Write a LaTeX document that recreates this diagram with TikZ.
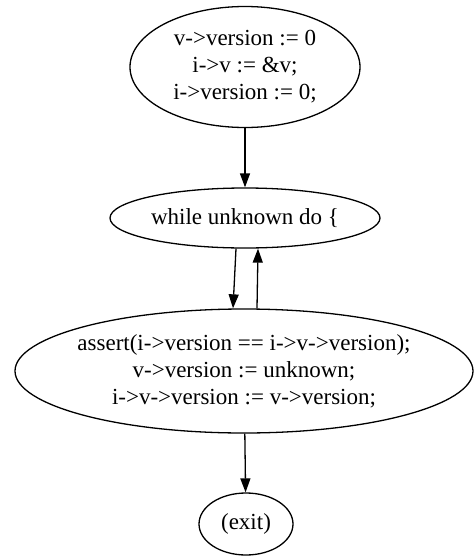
\documentclass[tikz,border=0pt]{standalone}
\usepackage{fontspec}
\setmainfont{Liberation Serif}
\usetikzlibrary{shapes.geometric}
\usetikzlibrary{arrows.meta}

\tikzset{
	stmt/.style={draw, ellipse, line width=1.3pt, inner sep=0pt, align=center,
		font=\fontsize{23}{27}\selectfont},
	flow/.style={-{Triangle[length=14pt,width=10pt]}, line width=1.3pt}
}

\begin{document}
\begin{tikzpicture}[x=1pt, y=-1pt]
\useasboundingbox (0, 0) rectangle (474, 557);

\node[stmt, minimum width=230pt, minimum height=121pt] (init) at (245, 67)
	{v->version := 0\\i->v := \&v;\\i->version := 0;};
\node[stmt, minimum width=270pt, minimum height=60pt] (loop) at (245, 218)
	{while unknown do \{};
\node[stmt, inner xsep=-10pt, minimum width=458pt, minimum height=124pt] (body) at (244, 371)
	{assert(i->version == i->v->version);\\v->version := unknown;\\i->v->version := v->version;};
\node[stmt, minimum width=94pt, minimum height=62pt] (exit) at (246, 524)
	{(exit)};

\draw[flow] (init) -- (loop);
\draw[flow] ([xshift=-9pt]loop.south) -- ([xshift=-11pt]body.north);
\draw[flow] ([xshift=13pt]body.north) -- ([xshift=13pt]loop.south);
\draw[flow] (body) -- (exit);
\end{tikzpicture}
\end{document}
